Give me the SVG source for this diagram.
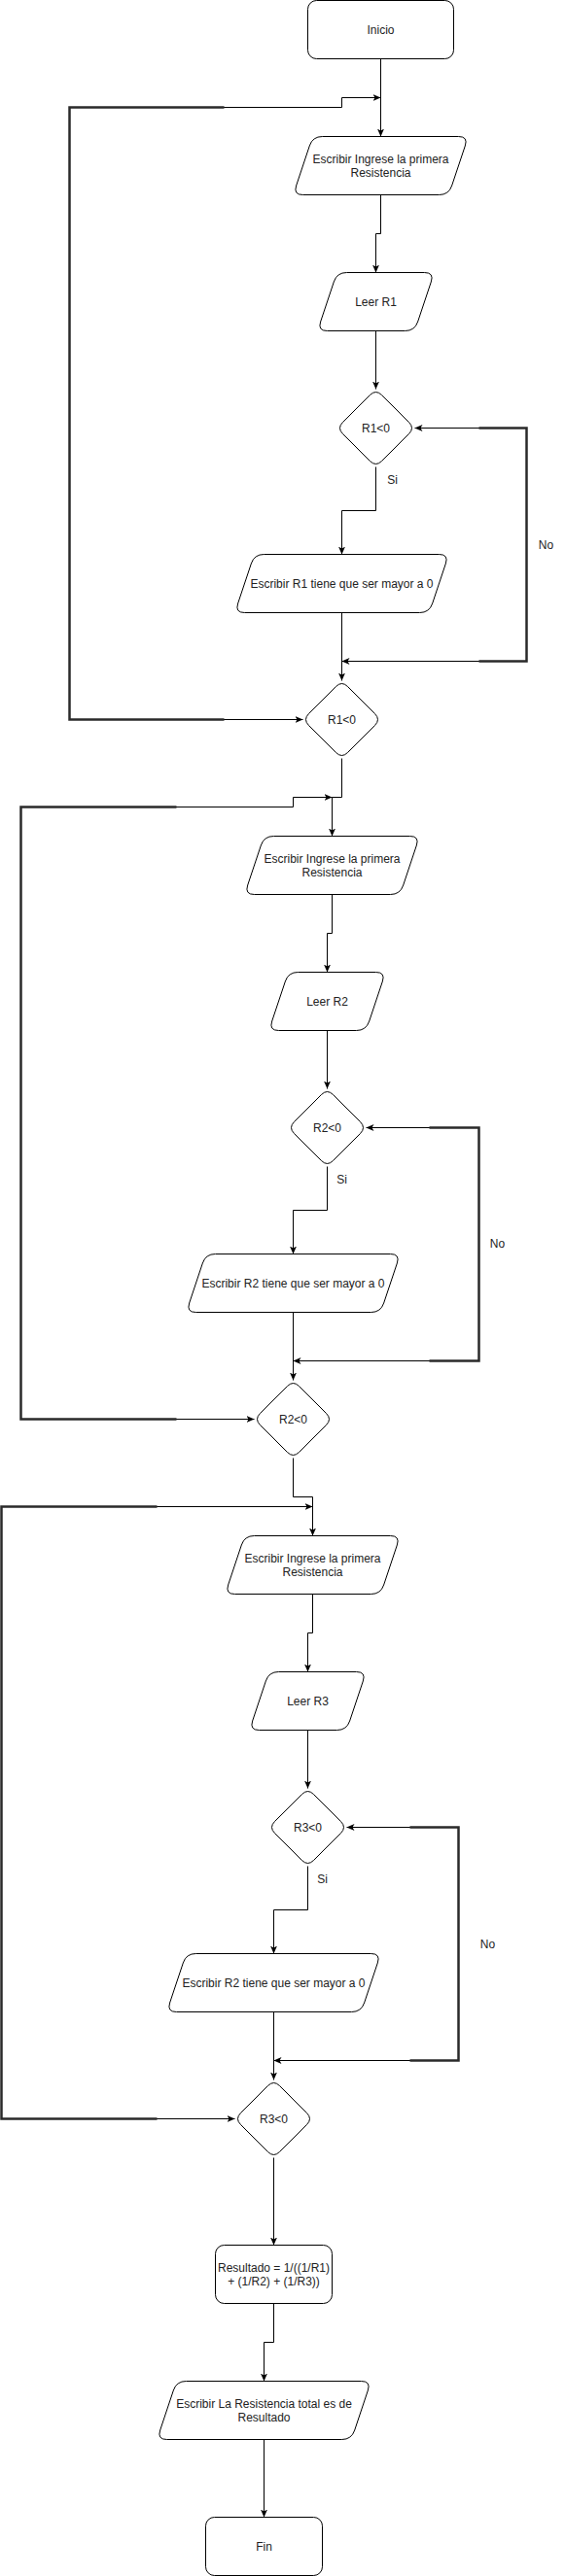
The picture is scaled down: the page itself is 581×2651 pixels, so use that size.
<svg xmlns="http://www.w3.org/2000/svg" xmlns:xlink="http://www.w3.org/1999/xlink" width="581" height="2651" viewBox="0 0 581 2651">
<defs>
<style>
.lbl{font-family:"Liberation Sans",Arial,sans-serif;font-size:12px;fill:#222;text-anchor:middle;dominant-baseline:central}
.edge{fill:none;stroke:#000;stroke-width:1}
.thick{fill:none;stroke:#2a2a2a;stroke-width:2.5}
.rr{fill:#fff;stroke:#000;stroke-width:1}
</style>
<marker id="arr" viewBox="0 0 8 7" refX="8" refY="3.5" markerWidth="8" markerHeight="7" markerUnits="userSpaceOnUse" orient="auto-start-reverse">
<path d="M0,0 L8,3.5 L0,7 L2,3.5 Z" fill="#000"/>
</marker>
<path id="p180" fill="#fff" stroke="#000" stroke-width="1" d="M30,0 L170,0 Q180,0 176.84,9.49 L163.16,50.51 Q160,60 150,60 L10,60 Q0,60 3.16,50.51 L16.84,9.49 Q20,0 30,0Z"/>
<path id="p120" fill="#fff" stroke="#000" stroke-width="1" d="M30,0 L110,0 Q120,0 116.84,9.49 L103.16,50.51 Q100,60 90,60 L10,60 Q0,60 3.16,50.51 L16.84,9.49 Q20,0 30,0Z"/>
<path id="p220" fill="#fff" stroke="#000" stroke-width="1" d="M30,0 L210,0 Q220,0 216.84,9.49 L203.16,50.51 Q200,60 190,60 L10,60 Q0,60 3.16,50.51 L16.84,9.49 Q20,0 30,0Z"/>
<path id="dia" fill="#fff" stroke="#000" stroke-width="1" d="M6.01,-33.99 L33.99,-6.01 Q40,0 33.99,6.01 L6.01,33.99 Q0,40 -6.01,33.99 L-33.99,6.01 Q-40,0 -33.99,-6.01 L-6.01,-33.99 Q0,-40 6.01,-33.99Z"/>
</defs>
<g transform="translate(0.5,0.5)">
<g id="connectors">
<path class="edge" marker-end="url(#arr)" d="M391,60 L391,140"/>
<path class="edge" marker-end="url(#arr)" d="M391,200 L391,240 L386,240 L386,280"/>
<path class="edge" marker-end="url(#arr)" d="M386,340 L386,400"/>
<path class="edge" marker-end="url(#arr)" d="M386,480 L386,525 L351,525 L351,570"/>
<path class="edge" marker-end="url(#arr)" d="M351,630 L351,700"/>
<path class="edge" marker-start="url(#arr)" marker-end="url(#arr)" d="M426,440 L541,440 L541,680 L351,680"/>
<path class="thick" d="M492,440 L541,440 L541,680 L492,680"/>
<path class="edge" marker-start="url(#arr)" marker-end="url(#arr)" d="M391,100 L351,100 L351,110 L71,110 L71,740 L311,740"/>
<path class="thick" d="M230,110 L71,110 L71,740 L230,740"/>
<path class="edge" marker-end="url(#arr)" d="M351,780 L351,820 L341,820 L341,860"/>
<path class="edge" marker-end="url(#arr)" d="M341,920 L341,960 L336,960 L336,1000"/>
<path class="edge" marker-end="url(#arr)" d="M336,1060 L336,1120"/>
<path class="edge" marker-end="url(#arr)" d="M336,1200 L336,1245 L301,1245 L301,1290"/>
<path class="edge" marker-end="url(#arr)" d="M301,1350 L301,1420"/>
<path class="edge" marker-start="url(#arr)" marker-end="url(#arr)" d="M376,1160 L492,1160 L492,1400 L301,1400"/>
<path class="thick" d="M441,1160 L492,1160 L492,1400 L441,1400"/>
<path class="edge" marker-start="url(#arr)" marker-end="url(#arr)" d="M341,820 L301,820 L301,830 L21,830 L21,1460 L261,1460"/>
<path class="thick" d="M181,830 L21,830 L21,1460 L181,1460"/>
<path class="edge" marker-end="url(#arr)" d="M301,1500 L301,1540 L321,1540 L321,1580"/>
<path class="edge" marker-end="url(#arr)" d="M321,1640 L321,1680 L316,1680 L316,1720"/>
<path class="edge" marker-end="url(#arr)" d="M316,1780 L316,1840"/>
<path class="edge" marker-end="url(#arr)" d="M316,1920 L316,1965 L281,1965 L281,2010"/>
<path class="edge" marker-end="url(#arr)" d="M281,2070 L281,2140"/>
<path class="edge" marker-start="url(#arr)" marker-end="url(#arr)" d="M356,1880 L471,1880 L471,2120 L281,2120"/>
<path class="thick" d="M421,1880 L471,1880 L471,2120 L421,2120"/>
<path class="edge" marker-start="url(#arr)" marker-end="url(#arr)" d="M321,1550 L1,1550 L1,2180 L241,2180"/>
<path class="thick" d="M161,1550 L1,1550 L1,2180 L161,2180"/>
<path class="edge" marker-end="url(#arr)" d="M281,2220 L281,2310"/>
<path class="edge" marker-end="url(#arr)" d="M281,2370 L281,2410 L271,2410 L271,2450"/>
<path class="edge" marker-end="url(#arr)" d="M271,2510 L271,2590"/>
<text class="lbl" x="403" y="493">Si</text>
<text class="lbl" x="561" y="560">No</text>
<text class="lbl" x="351" y="1213">Si</text>
<text class="lbl" x="511" y="1279">No</text>
<text class="lbl" x="331" y="1933">Si</text>
<text class="lbl" x="501" y="2000">No</text>
</g>
<g id="inicio"><rect class="rr" x="316" y="0" width="150" height="60" rx="9"/><text class="lbl" x="391" y="30">Inicio</text></g>
<g id="escribir1"><use xlink:href="#p180" href="#p180" x="301" y="140"/><text class="lbl" x="391"><tspan x="391" y="163">Escribir Ingrese la primera</tspan><tspan x="391" y="177.5">Resistencia</tspan></text></g>
<g id="leer1"><use xlink:href="#p120" href="#p120" x="326" y="280"/><text class="lbl" x="386" y="310">Leer R1</text></g>
<g id="dec1a"><use xlink:href="#dia" href="#dia" x="386" y="440"/><text class="lbl" x="386" y="440">R1&lt;0</text></g>
<g id="error1"><use xlink:href="#p220" href="#p220" x="241" y="570"/><text class="lbl" x="351" y="600">Escribir R1 tiene que ser mayor a 0</text></g>
<g id="dec1b"><use xlink:href="#dia" href="#dia" x="351" y="740"/><text class="lbl" x="351" y="740">R1&lt;0</text></g>
<g id="escribir2"><use xlink:href="#p180" href="#p180" x="251" y="860"/><text class="lbl" x="341"><tspan x="341" y="883">Escribir Ingrese la primera</tspan><tspan x="341" y="897.5">Resistencia</tspan></text></g>
<g id="leer2"><use xlink:href="#p120" href="#p120" x="276" y="1000"/><text class="lbl" x="336" y="1030">Leer R2</text></g>
<g id="dec2a"><use xlink:href="#dia" href="#dia" x="336" y="1160"/><text class="lbl" x="336" y="1160">R2&lt;0</text></g>
<g id="error2"><use xlink:href="#p220" href="#p220" x="191" y="1290"/><text class="lbl" x="301" y="1320">Escribir R2 tiene que ser mayor a 0</text></g>
<g id="dec2b"><use xlink:href="#dia" href="#dia" x="301" y="1460"/><text class="lbl" x="301" y="1460">R2&lt;0</text></g>
<g id="escribir3"><use xlink:href="#p180" href="#p180" x="231" y="1580"/><text class="lbl" x="321"><tspan x="321" y="1603">Escribir Ingrese la primera</tspan><tspan x="321" y="1617.5">Resistencia</tspan></text></g>
<g id="leer3"><use xlink:href="#p120" href="#p120" x="256" y="1720"/><text class="lbl" x="316" y="1750">Leer R3</text></g>
<g id="dec3a"><use xlink:href="#dia" href="#dia" x="316" y="1880"/><text class="lbl" x="316" y="1880">R3&lt;0</text></g>
<g id="error3"><use xlink:href="#p220" href="#p220" x="171" y="2010"/><text class="lbl" x="281" y="2040">Escribir R2 tiene que ser mayor a 0</text></g>
<g id="dec3b"><use xlink:href="#dia" href="#dia" x="281" y="2180"/><text class="lbl" x="281" y="2180">R3&lt;0</text></g>
<g id="resultado"><rect class="rr" x="221" y="2310" width="120" height="60" rx="9"/><text class="lbl" x="281"><tspan x="281" y="2333">Resultado = 1/((1/R1)</tspan><tspan x="281" y="2347.5">+ (1/R2) + (1/R3))</tspan></text></g>
<g id="salida"><use xlink:href="#p220" href="#p220" x="161" y="2450"/><text class="lbl" x="271"><tspan x="271" y="2473">Escribir La Resistencia total es de</tspan><tspan x="271" y="2487.5">Resultado</tspan></text></g>
<g id="fin"><rect class="rr" x="211" y="2590" width="120" height="60" rx="9"/><text class="lbl" x="271" y="2620">Fin</text></g>
</g>
</svg>
